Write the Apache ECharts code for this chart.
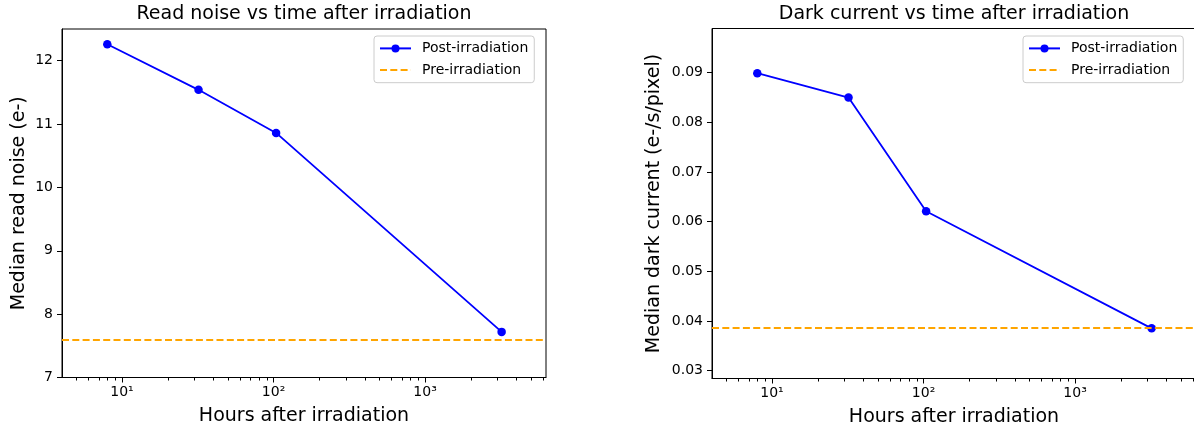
<!DOCTYPE html>
<html>
<head>
<meta charset="utf-8">
<script src="https://cdn.jsdelivr.net/npm/echarts@6/dist/echarts.min.js"></script>
<style>
  html, body { margin: 0; padding: 0; background: #fff; }
  #chart { width: 1194px; height: 427px; }
</style>
</head>
<body>
<div id="chart"></div>
<script>
// Measurements taken after irradiation
const hours = [8, 32, 104, 3200];
const readNoise = [12.26, 11.54, 10.86, 7.72];
const darkCurrent = [0.0899, 0.0850, 0.0621, 0.0385];

// Pre-irradiation reference levels
const preReadNoise = 7.6;
const preDarkCurrent = 0.0386;

// Axis ticks
const xMajorTicks = [10, 100, 1000];
const xMinorTicks = [5, 6, 7, 8, 9, 20, 30, 40, 50, 60, 70, 80, 90,
  200, 300, 400, 500, 600, 700, 800, 900, 2000, 3000, 4000, 5000, 6000];
const readNoiseTicks = [7, 8, 9, 10, 11, 12];
const darkCurrentTicks = [0.03, 0.04, 0.05, 0.06, 0.07, 0.08, 0.09];

// Axis limits
const xRange = [4.02, 6280];
const readNoiseRange = [7, 12.5];
const darkCurrentRange = [0.0284, 0.0989];

const FONT = 'DejaVu Sans';
const BLUE = '#0000ff';
const ORANGE = '#ffa500';
const SUP = { 1: '\u00b9', 2: '\u00b2', 3: '\u00b3' };

const chart = echarts.init(document.getElementById('chart'), null, { renderer: 'canvas' });

function xAxisFor(gridIndex) {
  return {
    type: 'log', logBase: 10, gridIndex,
    min: xRange[0], max: xRange[1],
    name: 'Hours after irradiation', nameLocation: 'middle', nameGap: 29,
    nameTextStyle: { fontFamily: FONT, fontSize: 19, lineHeight: 19, color: '#000' },
    axisLine: { show: true, lineStyle: { color: '#000', width: 1 } },
    axisTick: { show: true, customValues: xMajorTicks, length: 5, lineStyle: { color: '#000', width: 1 } },
    axisLabel: {
      customValues: xMajorTicks, margin: 8,
      fontFamily: FONT, fontSize: 14, color: '#000',
      formatter: v => '10' + SUP[Math.round(Math.log10(v))]
    },
    splitLine: { show: false }, minorTick: { show: false }
  };
}

function yAxisFor(gridIndex, range, ticks, name, gap, fmt) {
  return {
    type: 'value', gridIndex, min: range[0], max: range[1],
    name, nameLocation: 'middle', nameGap: gap, nameRotate: 90,
    nameTextStyle: { fontFamily: FONT, fontSize: 19, lineHeight: 19, color: '#000' },
    axisLine: { show: true, lineStyle: { color: '#000', width: 1 } },
    axisTick: { show: true, customValues: ticks, length: 5, lineStyle: { color: '#000', width: 1 } },
    axisLabel: { customValues: ticks, margin: 9, fontFamily: FONT, fontSize: 14, color: '#000', formatter: fmt },
    splitLine: { show: false }
  };
}

// Short minor ticks under the log x axis at 2..9 x 10^n
function minorTickSeries(axisIndex, yMin) {
  return {
    type: 'custom', xAxisIndex: axisIndex, yAxisIndex: axisIndex, silent: true, clip: false,
    data: xMinorTicks.map(v => [v, yMin]),
    renderItem: (params, api) => {
      const x = Math.round(api.coord([api.value(0), api.value(1)])[0]) + 0.5;
      const cs = params.coordSys;
      const y0 = cs.y + cs.height;
      return { type: 'line', shape: { x1: x, y1: y0, x2: x, y2: y0 + 3 },
               style: { stroke: '#000', lineWidth: 1 } };
    }
  };
}

function postSeries(axisIndex, values) {
  return {
    name: 'Post-irradiation', type: 'line', xAxisIndex: axisIndex, yAxisIndex: axisIndex,
    data: hours.map((h, i) => [h, values[i]]),
    symbol: 'circle', symbolSize: 8.5, showSymbol: true,
    lineStyle: { color: BLUE, width: 1.8 }, itemStyle: { color: BLUE },
    z: 3
  };
}

function preSeries(axisIndex, level) {
  return {
    name: 'Pre-irradiation', type: 'line', xAxisIndex: axisIndex, yAxisIndex: axisIndex,
    data: [], symbol: 'none',
    lineStyle: { color: ORANGE, width: 1.8, type: [7, 3.3] },
    itemStyle: { color: ORANGE },
    markLine: {
      silent: true, symbol: 'none', precision: 6, label: { show: false },
      lineStyle: { color: ORANGE, width: 1.8, type: [7, 3.3] },
      data: [{ yAxis: level }]
    },
    z: 4
  };
}

function legendAt(left) {
  return {
    orient: 'vertical', left, top: 36, selectedMode: false,
    itemWidth: 31, itemHeight: 10, itemGap: 5.6,
    padding: [4.4, 6, 4.7, 5],
    borderColor: '#cccccc', borderWidth: 1, borderRadius: 3,
    backgroundColor: 'rgba(255,255,255,0.8)',
    textStyle: { fontFamily: FONT, fontSize: 14, lineHeight: 16, color: '#000', padding: [0, 0, 0, 6] },
    data: [
      { name: 'Post-irradiation' },
      { name: 'Pre-irradiation', itemStyle: { color: 'rgba(0,0,0,0)', borderWidth: 0 } }
    ]
  };
}

const titleStyle = { fontFamily: FONT, fontSize: 19, lineHeight: 19, fontWeight: 'normal', color: '#000' };

const gridBase = { show: true, borderColor: '#000', borderWidth: 1, backgroundColor: 'transparent',
                   containLabel: false, outerBoundsMode: 'none' };

chart.setOption({
  animation: false,
  backgroundColor: '#fff',
  title: [
    { text: 'Read noise vs time after irradiation', left: 304, top: 5, padding: 0, textAlign: 'center', textStyle: titleStyle },
    { text: 'Dark current vs time after irradiation', left: 954, top: 5, padding: 0, textAlign: 'center', textStyle: titleStyle }
  ],
  grid: [
    Object.assign({ left: 62, top: 29, width: 484, height: 348.5 }, gridBase),
    Object.assign({ left: 712, top: 28.5, width: 484, height: 350 }, gridBase)
  ],
  xAxis: [xAxisFor(0), xAxisFor(1)],
  yAxis: [
    yAxisFor(0, readNoiseRange, readNoiseTicks, 'Median read noise (e-)', 33, v => String(Math.round(v))),
    yAxisFor(1, darkCurrentRange, darkCurrentTicks, 'Median dark current (e-/s/pixel)', 48, v => v.toFixed(2))
  ],
  legend: [legendAt(374), legendAt(1023)],
  series: [
    minorTickSeries(0, readNoiseRange[0]),
    minorTickSeries(1, darkCurrentRange[0]),
    postSeries(0, readNoise),
    preSeries(0, preReadNoise),
    postSeries(1, darkCurrent),
    preSeries(1, preDarkCurrent)
  ]
});
</script>
</body>
</html>
